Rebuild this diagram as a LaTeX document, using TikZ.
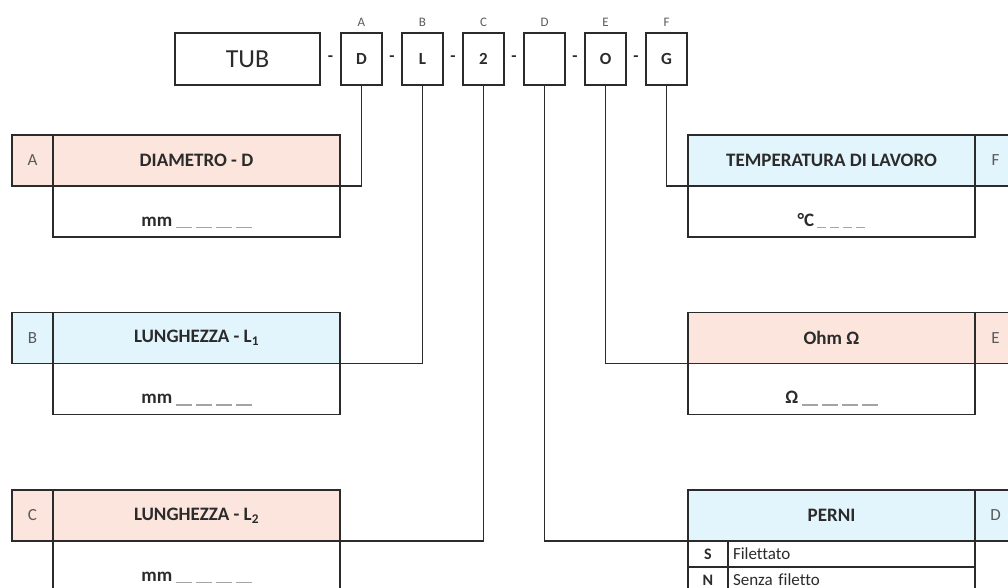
\documentclass[tikz,border=0pt]{standalone}
\usepackage{fontspec}
\setmainfont[Ligatures=CommonOff]{Carlito}
\usetikzlibrary{positioning}
\definecolor{codePink}{HTML}{FBE5DC}
\definecolor{codeBlue}{HTML}{E2F5FC}
\definecolor{codeRule}{HTML}{2B2B2B}
\definecolor{codeGrey}{HTML}{5A5A5A}
% blank to fill in: four short grey rules
\newcommand{\fillin}[1]{\textcolor{codeGrey!55}{\rule[-2pt]{#1}{1.2pt}\hspace{4pt}\rule[-2pt]{#1}{1.2pt}\hspace{4pt}\rule[-2pt]{#1}{1.2pt}\hspace{4pt}\rule[-2pt]{#1}{1.2pt}}}

\begin{document}
\begin{tikzpicture}[x=1pt,y=-1pt,
    node distance=0pt,
    every node/.style={outer sep=0pt,text=codeRule},
    tub/.style={draw=codeRule,line width=1.8pt,minimum width=145pt,minimum height=52pt,
                font=\fontsize{26}{28}\selectfont},
    code/.style={draw=codeRule,line width=1.8pt,minimum width=41pt,minimum height=52pt,
                 font=\fontsize{17}{18}\selectfont\bfseries},
    sep/.style={font=\fontsize{17}{18}\selectfont\bfseries},
    toplbl/.style={font=\fontsize{13}{14}\selectfont,text=codeGrey,label distance=3pt},
    head/.style={draw=codeRule,line width=1.8pt,minimum width=287pt,minimum height=51pt,
                 font=\fontsize{19}{22}\selectfont\bfseries},
    tag/.style={draw=codeRule,line width=1.8pt,minimum width=41pt,minimum height=51pt,
                font=\fontsize{17}{18}\selectfont,text=codeGrey},
    body/.style={draw=codeRule,line width=1.8pt,minimum width=287pt,minimum height=51pt,
                 text height=29pt,text depth=0pt,font=\fontsize{19}{22}\selectfont\bfseries},
    key/.style={draw=codeRule,line width=1.8pt,minimum width=40pt,minimum height=26pt,
                font=\fontsize{16}{18}\selectfont\bfseries},
    val/.style={draw=codeRule,line width=1.8pt,minimum height=26pt,inner xsep=5pt,
                text width=237pt,align=left,font=\fontsize{17}{20}\selectfont},
    link/.style={draw=codeRule,line width=1.8pt}]
  \useasboundingbox (0,0) rectangle (1008,588);
  \clip (0,0) rectangle (1008,588);

  % product code
  \node[tub] (tub) at (247.5,59) {TUB};
  \node[code,right=21pt of tub,label={[toplbl]above:A}] (codeA) {D};
  \node[code,right=20pt of codeA,label={[toplbl]above:B}] (codeB) {L};
  \node[code,right=20pt of codeB,label={[toplbl]above:C}] (codeC) {2};
  \node[code,right=20pt of codeC,label={[toplbl]above:D}] (codeD) {};
  \node[code,right=20pt of codeD,label={[toplbl]above:E}] (codeE) {O};
  \node[code,right=20pt of codeE,label={[toplbl]above:F}] (codeF) {G};
  \path (tub.east) -- node[sep] (sepA) {-} (codeA.west);
  \path (codeA.east) -- node[sep] (sepB) {-} (codeB.west);
  \path (codeB.east) -- node[sep] (sepC) {-} (codeC.west);
  \path (codeC.east) -- node[sep] (sepD) {-} (codeD.west);
  \path (codeD.east) -- node[sep] (sepE) {-} (codeE.west);
  \path (codeE.east) -- node[sep] (sepF) {-} (codeF.west);

  % left column
  \node[head,fill=codePink] (headA) at (196.5,160.5) {DIAMETRO - D};
  \node[tag,fill=codePink,left=of headA] (tagA) {A};
  \node[body,below=of headA] (bodyA) {mm\,\fillin{16pt}};

  \node[head,fill=codeBlue] (headB) at (196.5,338) {LUNGHEZZA - L\textsubscript{1}};
  \node[tag,fill=codeBlue,left=of headB] (tagB) {B};
  \node[body,below=of headB] (bodyB) {mm\,\fillin{16pt}};

  \node[head,fill=codePink] (headC) at (196.5,515.5) {LUNGHEZZA - L\textsubscript{2}};
  \node[tag,fill=codePink,left=of headC] (tagC) {C};
  \node[body,below=of headC] (bodyC) {mm\,\fillin{16pt}};

  % right column
  \node[head,fill=codeBlue] (headF) at (831.5,160.5) {TEMPERATURA DI LAVORO};
  \node[tag,fill=codeBlue,right=of headF] (tagF) {F};
  \node[body,below=of headF] (bodyF) {°C\,\fillin{9pt}};

  \node[head,fill=codePink] (headE) at (831.5,338) {Ohm Ω};
  \node[tag,fill=codePink,right=of headE] (tagE) {E};
  \node[body,below=of headE] (bodyE) {Ω\,\fillin{16pt}};

  \node[head,fill=codeBlue] (headD) at (831.5,515.5) {PERNI};
  \node[tag,fill=codeBlue,right=of headD] (tagD) {D};
  \node[key,below right=0pt and 0pt of headD.south west] (keyS) {S};
  \node[val,right=of keyS] (valS) {Filettato};
  \node[key,below=of keyS] (keyN) {N};
  \node[val,right=of keyN] (valN) {Senza filetto};

  % connectors
  \draw[link] (codeA.south) |- (headA.south east);
  \draw[link] (codeB.south) |- (headB.south east);
  \draw[link] (codeC.south) |- (headC.south east);
  \draw[link] (codeD.south) |- (headD.south west);
  \draw[link] (codeE.south) |- (headE.south west);
  \draw[link] (codeF.south) |- (headF.south west);
\end{tikzpicture}
\end{document}
